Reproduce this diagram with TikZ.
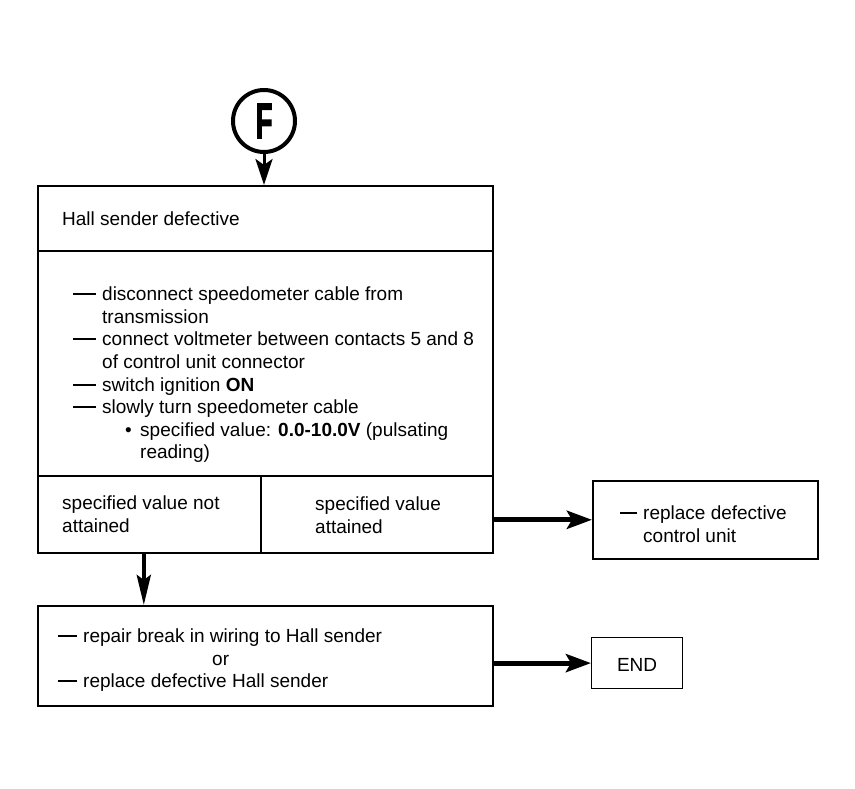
\documentclass[tikz,border=0pt]{standalone}
\usepackage{fontspec}
\usepackage{graphicx}
\setmainfont{Liberation Sans}
\newfontface\heavyface[FakeBold=3]{Liberation Sans Bold}
\usetikzlibrary{arrows.meta}

% dash in front of an item, #1 is the space it takes
\newcommand{\dashbar}[1]{\makebox[#1][l]{\rule[5.5pt]{\dimexpr#1-6pt\relax}{2pt}}}

\tikzset{
  box/.style={draw, line width=1.6pt, rectangle, inner sep=0pt, anchor=north west},
  txt/.style={inner sep=0pt, align=left, anchor=west, font=\fontsize{19}{22.6}\selectfont},
  flow/.style={line width=5pt, -{Stealth[length=25pt,width=18pt,inset=5pt]}},
}

\begin{document}
\begin{tikzpicture}[x=1pt,y=-1pt]
    \useasboundingbox (0,0) rectangle (855,789);

    % Entry point
    \node[circle, draw, line width=4pt, minimum size=62pt, inner sep=0pt,
          font=\fontsize{50}{50}\heavyface] (start) at (264,121) {\scalebox{0.55}[1]{F}};

    % Main box
    \node[box, minimum width=455pt, minimum height=65pt] (title) at (37,185) {};
    \node[txt] (titletext) at ([xshift=25pt]title.west) {Hall sender defective};

    \node[box, minimum width=455pt, minimum height=225pt] (body) at (37,250) {};
    \node[txt] (bodytext) at ([shift={(36,11.5)}]body.west) {%
      \dashbar{29pt}disconnect speedometer cable from\\
      \hspace*{29pt}transmission\\
      \dashbar{29pt}connect voltmeter between contacts 5 and 8\\
      \hspace*{29pt}of control unit connector\\
      \dashbar{29pt}switch ignition \textbf{ON}\\
      \dashbar{29pt}slowly turn speedometer cable\\
      \hspace*{52pt}\makebox[15pt][l]{\textbullet}specified value: \textbf{0.0-10.0V} (pulsating\\
      \hspace*{67pt}reading)};

    % Results
    \node[box, minimum width=223pt, minimum height=77pt] (notok) at (37,475) {};
    \node[txt] (notoktext) at ([xshift=25pt]notok.west) {specified value not\\attained};
    \node[box, minimum width=232pt, minimum height=77pt] (okay) at (260,475) {};
    \node[txt] (okaytext) at ([shift={(55,1)}]okay.west) {specified value\\attained};

    \node[box, minimum width=225pt, minimum height=78pt] (fix) at (592,480) {};
    \node[txt] (fixtext) at ([shift={(28,4.5)}]fix.west) {\dashbar{23pt}replace defective\\\hspace*{23pt}control unit};

    \node[box, minimum width=455pt, minimum height=100pt] (repair) at (37,605) {};
    \node[txt] (repairtext) at ([shift={(21,4.5)}]repair.west) {%
      \dashbar{25pt}repair break in wiring to Hall sender\\
      \hspace*{154pt}or\\
      \dashbar{25pt}replace defective Hall sender};

    \node[box, line width=1.2pt, minimum width=91pt, minimum height=51pt] (finish) at (591,637) {};
    \node[txt, anchor=center] (finishtext) at ([yshift=-1.5pt]finish.center) {END};

    % Arrows
    \draw[line width=3pt, -{Stealth[length=26pt,width=17pt,inset=6pt]}] (start.south) -- (start.south |- title.north);
    \draw[flow] (okay.east |- fix.west) -- (fix.west);
    \draw[line width=4pt, -{Stealth[length=30pt,width=14pt,inset=5pt]}] ([xshift=-5.5pt]notok.south) -- ([xshift=-5.5pt]notok.south |- repair.north);
    \draw[flow] (repair.east |- finish.west) -- (finish.west);
\end{tikzpicture}
\end{document}
